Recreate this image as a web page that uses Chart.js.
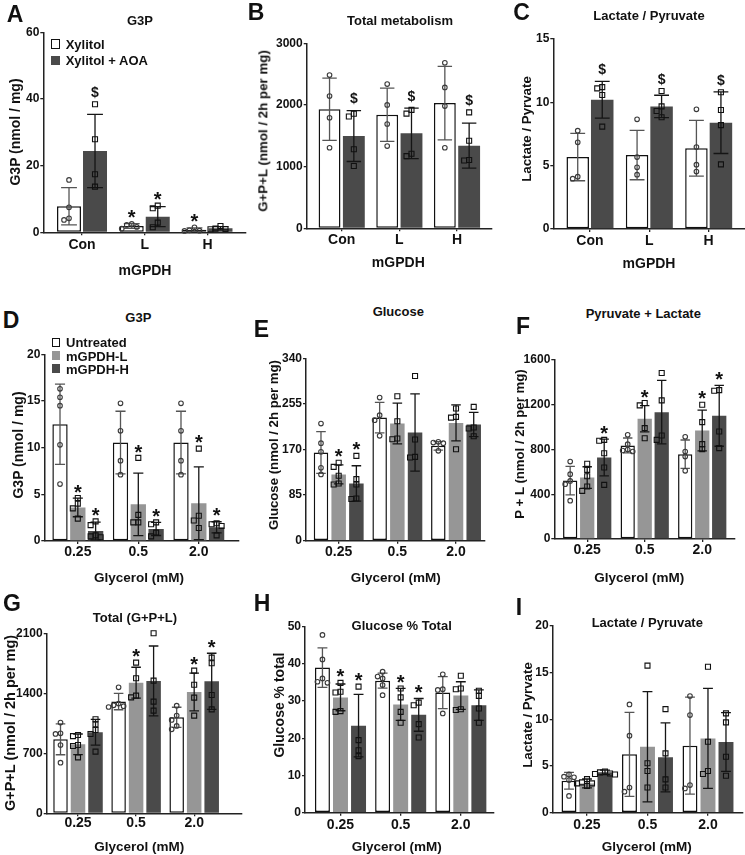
<!DOCTYPE html>
<html><head><meta charset="utf-8">
<script src="https://cdn.jsdelivr.net/npm/chart.js@4.4.1/dist/chart.umd.min.js"></script>
<style>
html,body{margin:0;padding:0;background:#fff;overflow:hidden;}
#root{position:relative;width:745px;height:855px;overflow:hidden;font-family:"Liberation Sans",Arial,Helvetica,sans-serif;font-weight:bold;color:#111;}
canvas{position:absolute;}
.t{position:absolute;white-space:nowrap;line-height:1;transform:translate(-50%,-50%);}
.r{transform:translate(-50%,-50%) rotate(-90deg);}
.lg{position:absolute;white-space:nowrap;line-height:1;transform:translateY(-50%);}
.box{position:absolute;box-sizing:border-box;}
</style></head><body><div id="root"></div>
<script>
// ---------- categories ----------
const catsMGPDH = ['Con', 'L', 'H'];
const catsGly = ['0.25', '0.5', '2.0'];

// ---------- Panel A: G3P (nmol/mg) ----------
const aXylMean = [7.8, 1.9, 0.8];
const aXylSd = [5.6, 0.7, 0.5];
const aXylPts = [[15.7, 7.5, 4.2, 3.7], [2.5, 2.2, 1.6, 1.1], [1.5, 0.6, 0.5, 0.4]];
const aXylMarks = ['', '*', '*'];
const aAoaMean = [24.4, 4.7, 1.2];
const aAoaSd = [11.0, 3.0, 0.5];
const aAoaPts = [[38.4, 27.9, 17.4, 13.7], [8.0, 7.2, 2.9, 1.5], [1.9, 1.1, 1.0, 0.9]];
const aAoaMarks = ['$', '*', ''];

// ---------- Panel B: Total metabolism ----------
const bXylMean = [1930, 1840, 2030];
const bXylSd = [505, 432, 595];
const bXylPts = [[2485, 2144, 1793, 1306], [2339, 2000, 1691, 1334], [2684, 2285, 1982, 1306]];
const bAoaMean = [1496, 1540, 1340];
const bAoaSd = [413, 410, 365];
const bAoaPts = [[1857, 1814, 1281, 1010], [1920, 1860, 1210, 1170], [1880, 1420, 1107, 1100]];
const bAoaMarks = ['$', '$', '$'];

// ---------- Panel C: Lactate / Pyruvate ----------
const cXylMean = [5.68, 5.84, 6.37];
const cXylSd = [1.87, 1.95, 2.2];
const cXylPts = [[7.76, 6.84, 4.13, 3.97], [8.66, 5.68, 4.87, 4.29], [9.45, 6.47, 5.08, 4.53]];
const cAoaMean = [10.2, 9.68, 8.39];
const cAoaSd = [1.45, 0.88, 2.43];
const cAoaPts = [[11.2, 11.1, 10.58, 8.08], [10.9, 9.68, 9.31, 8.82], [10.8, 9.39, 8.2, 5.1]];
const cAoaMarks = ['$', '$', '$'];

// ---------- Panel D: G3P vs glycerol ----------
const dUntMean = [12.5, 10.55, 10.55];
const dUntSd = [4.3, 3.35, 3.35];
const dUntPts = [[16.3, 15.4, 14.5, 10.3, 6.1], [14.75, 11.8, 8.6, 7.1], [14.75, 11.8, 8.6, 7.1]];
const dLMean = [3.6, 3.93, 4.04];
const dLSd = [1.0, 3.35, 3.9];
const dLPts = [[4.6, 4.0, 3.5, 2.4], [8.9, 2.8, 2.0, 2.0], [9.9, 2.7, 2.2, 1.4]];
const dLMarks = ['*', '*', '*'];
const dHMean = [1.07, 1.29, 1.46];
const dHSd = [0.95, 0.7, 0.6];
const dHPts = [[2.1, 1.7, 0.6, 0.5, 0.4], [2.0, 1.8, 0.9, 0.5], [1.9, 1.8, 1.6, 0.6]];
const dHMarks = ['*', '*', '*'];

// ---------- Panel E: Glucose ----------
const eUntMean = [164.4, 229.5, 176.8];
const eUntSd = [39, 28.5, 8];
const eUntPts = [[218.4, 181.8, 165.6, 135.9, 123.5], [266.8, 233.9, 224.6, 195.4], [184.3, 183, 181.8, 167.5]];
const eLMean = [123.5, 218.4, 219.6];
const eLSd = [17.7, 38, 33.5];
const eLPts = [[145.2, 137.7, 121, 106.7, 104.8], [269.3, 222.7, 190.5, 189.2], [246.3, 230.8, 229.5, 170.6]];
const eLMarks = ['*', '', ''];
const eHMean = [106.7, 201.6, 216.5];
const eHSd = [33, 72, 22.6];
const eHPts = [[158.2, 114.8, 104.8, 78.8, 77.6], [307.1, 188.6, 156.3, 155.1], [249.4, 210.9, 209.1, 194.8]];
const eHMarks = ['*', '', ''];

// ---------- Panel F: Pyruvate + Lactate ----------
const fUntMean = [522, 836, 758];
const fUntSd = [127, 67, 127];
const fUntPts = [[692, 579, 519, 490, 343], [931, 848, 800, 791, 782], [913, 782, 737, 609]];
const fLMean = [549, 1075, 970];
const fLSd = [97, 117, 182];
const fLPts = [[672, 618, 561, 469, 430], [1215, 1194, 991, 901], [1200, 1045, 848, 803]];
const fLMarks = ['', '*', '*'];
const fHMean = [728, 1134, 1101];
const fHSd = [164, 283, 272];
const fHPts = [[886, 878, 767, 639, 484], [1484, 1239, 925, 886], [1331, 1325, 961, 812]];
const fHMarks = ['*', '', '*'];

// ---------- Panel G: Total (G+P+L) ----------
const gUntMean = [863, 1303, 1120];
const gUntSd = [180, 95, 117];
const gUntPts = [[1058, 933, 926, 797, 591], [1470, 1280, 1260, 1250, 1240], [1256, 1140, 1089, 1019, 980]];
const gLMean = [805, 1524, 1416];
const gLSd = [120, 180, 220];
const gLPts = [[914, 900, 797, 786, 653], [1758, 1575, 1373, 1353], [1664, 1500, 1350, 1140]];
const gLMarks = ['', '*', '*'];
const gHMean = [945, 1544, 1540];
const gHSd = [150, 408, 327];
const gHPts = [[1097, 1038, 972, 926, 719], [2100, 1548, 1303, 1198], [1816, 1750, 1381, 1213]];
const gHMarks = ['', '', '*'];

// ---------- Panel H: Glucose % Total ----------
const hUntMean = [39.0, 35.5, 32.3];
const hUntSd = [5.3, 2.0, 4.3];
const hUntPts = [[47.8, 41.2, 36.1, 35.2, 34.9], [37.9, 36.6, 36.1, 34.3, 31.6], [37.2, 33.2, 33.0, 26.7]];
const hLMean = [31.0, 29.1, 31.5];
const hLSd = [3.6, 4.3, 3.7];
const hLPts = [[34.9, 32.5, 32.3, 27.3, 27.1], [33.4, 31.0, 27.1, 24.2], [36.8, 33.4, 33.2, 27.8, 27.6]];
const hLMarks = ['*', '*', ''];
const hHMean = [23.4, 26.3, 28.9];
const hHSd = [8.4, 4.4, 4.1];
const hHPts = [[33.9, 19.5, 16.8, 15.2], [29.6, 28.9, 23.8, 20.2], [32.8, 31.4, 28.0, 24.2]];
const hHMarks = ['*', '*', ''];

// ---------- Panel I: Lactate / Pyruvate vs glycerol ----------
const iUntMean = [3.43, 6.25, 7.18];
const iUntSd = [0.9, 4.5, 5.2];
const iUntPts = [[4.1, 3.86, 3.8, 3.5, 1.8], [11.6, 8.25, 2.7, 2.25], [12.5, 10.46, 2.96, 2.6]];
const iLMean = [3.14, 7.07, 7.96];
const iLSd = [0.47, 5.9, 5.35];
const iLPts = [[3.6, 3.25, 3.14, 3.14, 2.86], [15.75, 5.3, 4.46, 2.7], [15.64, 7.6, 4.46, 4.14]];
const iHMean = [4.32, 5.93, 7.57];
const iHSd = [0.25, 3.7, 3.15];
const iHPts = [[4.4, 4.32, 4.2, 4.14, 4.1], [11.1, 6.36, 3.57, 2.7], [10.64, 9.68, 6.0, 3.96]];

// ---------- styling ----------
const FONT = '"Liberation Sans", Arial, Helvetica, sans-serif';
const WHITE = '#ffffff', GREY = '#969696', DARK = '#4a4a4a', AX = '#222222';
const root = document.getElementById('root');

function ser(label, fill, mean, sd, pts, marks, marker) {
  return { label, fill, mean, sd, pts, marks: marks || [], marker };
}

function swarm(ys, d) {
  const idx = ys.map((y, i) => i).sort((a, b) => ys[a] - ys[b]);
  const placed = [], offs = new Array(ys.length).fill(0);
  for (const i of idx) {
    for (const c of [0, -d, d, -2 * d, 2 * d, -3 * d, 3 * d]) {
      if (placed.every(q => Math.hypot(q.x - c, q.y - ys[i]) >= d)) {
        offs[i] = c; placed.push({ x: c, y: ys[i] }); break;
      }
    }
  }
  return offs;
}

function makePanel(p, n) {
  const YW = 36, XH = 28;
  const cL = Math.floor(p.plot.l) - 40, cT = Math.floor(p.plot.t) - 14;
  const cW = Math.ceil(p.plot.r) - cL + 4, cH = Math.ceil(p.plot.b) - cT + 32;
  const cv = document.createElement('canvas');
  cv.width = cW; cv.height = cH;
  cv.style.left = cL + 'px'; cv.style.top = cT + 'px';
  cv.style.width = cW + 'px'; cv.style.height = cH + 'px';
  root.appendChild(cv);
  const pad = { left: p.plot.l - cL - YW, top: p.plot.t - cT, right: cW - (p.plot.r - cL), bottom: cH - (p.plot.b - cT) - XH };

  const overlay = {
    id: 'overlay' + n,
    afterDatasetsDraw(chart) {
      const ctx = chart.ctx, ys = chart.scales.y;
      p.series.forEach((s, di) => {
        const meta = chart.getDatasetMeta(di);
        meta.data.forEach((bar, i) => {
          const x = bar.x, w = bar.width;
          const m = s.mean[i], sd = s.sd[i];
          const yH = ys.getPixelForValue(m + sd), yL = ys.getPixelForValue(Math.max(0, m - sd));
          ctx.save();
          ctx.strokeStyle = s.fill === WHITE ? '#555555' : '#151515';
          ctx.lineWidth = 1.3;
          const cw = w * 0.33;
          ctx.beginPath();
          ctx.moveTo(x, yH); ctx.lineTo(x, yL);
          ctx.moveTo(x - cw, yH); ctx.lineTo(x + cw, yH);
          ctx.moveTo(x - cw, yL); ctx.lineTo(x + cw, yL);
          ctx.stroke();
          const vals = s.pts[i];
          const pys = vals.map(v => ys.getPixelForValue(v));
          const offs = swarm(pys, 5);
          ctx.lineWidth = 1.1;
          pys.forEach((py, k) => {
            const px = x + offs[k];
            ctx.beginPath();
            if (s.marker === 'circle') {
              ctx.strokeStyle = '#3a3a3a';
              ctx.arc(px, py, 2.3, 0, Math.PI * 2);
            } else {
              ctx.strokeStyle = '#111111';
              ctx.rect(px - 2.5, py - 2.5, 5, 5);
            }
            ctx.stroke();
          });
          const mk = s.marks[i];
          if (mk) {
            const top = Math.min(yH, ...pys);
            ctx.fillStyle = '#111111';
            ctx.textAlign = 'center';
            ctx.textBaseline = 'alphabetic';
            if (mk === '*') {
              const fs = 20;
              ctx.font = 'bold ' + fs + 'px ' + FONT;
              ctx.fillText('*', x, top - 11 + 0.58 * fs);
            } else {
              const fs = 14;
              ctx.font = 'bold ' + fs + 'px ' + FONT;
              ctx.fillText(mk, x, top - 12 + 0.35 * fs);
            }
          }
          ctx.restore();
        });
      });
    }
  };

  new Chart(cv, {
    type: 'bar',
    data: {
      datasets: p.series.map(s => ({
        label: s.label,
        data: s.mean.map((v, i) => ({ x: i, y: v })),
        backgroundColor: s.fill,
        borderColor: '#111111',
        borderWidth: s.fill === WHITE ? 1.5 : 0,
        borderSkipped: false
      }))
    },
    options: {
      responsive: false, animation: false, devicePixelRatio: 1,
      layout: { padding: pad },
      plugins: { legend: { display: false }, tooltip: { enabled: false }, title: { display: false } },
      datasets: { bar: { categoryPercentage: p.catPct, barPercentage: p.barPct } },
      scales: {
        x: {
          type: 'linear', min: p.xMin, max: p.xMax, offset: false, bounds: 'data',
          afterBuildTicks: ax => { ax.ticks = p.cats.map((c, i) => ({ value: i })); },
          afterFit: ax => { ax.height = XH; },
          ticks: {
            autoSkip: false, maxRotation: 0, minRotation: 0, padding: p.xPad, color: '#111111',
            font: { family: FONT, size: 14, weight: 'bold' },
            callback: v => (p.cats[v] !== undefined ? p.cats[v] : '')
          },
          grid: { drawOnChartArea: false, drawTicks: true, tickLength: 3, color: AX, lineWidth: 1.3, offset: false },
          border: { color: AX, width: 1.5 }
        },
        y: {
          type: 'linear', min: 0, max: p.yMax,
          afterFit: ax => { ax.width = YW; },
          ticks: {
            stepSize: p.yStep, padding: 1, color: '#111111',
            font: { family: FONT, size: 12, weight: 'bold' },
            callback: v => String(v)
          },
          grid: { drawOnChartArea: false, drawTicks: true, tickLength: 3, color: AX, lineWidth: 1.3 },
          border: { color: AX, width: 1.5 }
        }
      }
    },
    plugins: [overlay]
  });
}

function txt(s, cx, cy, size, rot) {
  const d = document.createElement('div');
  d.className = 't' + (rot ? ' r' : '');
  d.textContent = s;
  d.style.left = cx + 'px'; d.style.top = cy + 'px';
  d.style.fontSize = size + 'px';
  root.appendChild(d);
}
function legendItem(label, fill, bx, cy, sz, tx) {
  const b = document.createElement('div');
  b.className = 'box';
  b.style.left = bx + 'px'; b.style.top = (cy - sz / 2) + 'px';
  b.style.width = sz + 'px'; b.style.height = sz + 'px';
  b.style.background = fill;
  if (fill === WHITE) b.style.border = '1.5px solid #111';
  root.appendChild(b);
  const t = document.createElement('div');
  t.className = 'lg';
  t.textContent = label;
  t.style.left = tx + 'px'; t.style.top = cy + 'px'; t.style.fontSize = '13px';
  root.appendChild(t);
}

const panels = [
  { plot: { l: 43.3, r: 246, t: 32.3, b: 232.3 }, yMax: 60, yStep: 20, xMin: -0.617, xMax: 2.614, cats: catsMGPDH, catPct: 0.829, barPct: 0.923, xPad: 1.3,
    series: [ser('Xylitol', WHITE, aXylMean, aXylSd, aXylPts, aXylMarks, 'circle'), ser('Xylitol + AOA', DARK, aAoaMean, aAoaSd, aAoaPts, aAoaMarks, 'square')] },
  { plot: { l: 306.7, r: 491.7, t: 43.3, b: 228.3 }, yMax: 3000, yStep: 1000, xMin: -0.607, xMax: 2.602, cats: catsMGPDH, catPct: 0.843, barPct: 0.9, xPad: 0.3,
    series: [ser('Xylitol', WHITE, bXylMean, bXylSd, bXylPts, null, 'circle'), ser('Xylitol + AOA', DARK, bAoaMean, bAoaSd, bAoaPts, bAoaMarks, 'square')] },
  { plot: { l: 553.3, r: 745, t: 39, b: 229 }, yMax: 15, yStep: 5, xMin: -0.618, xMax: 2.612, cats: catsMGPDH, catPct: 0.826, barPct: 0.918, xPad: 0.3,
    series: [ser('Xylitol', WHITE, cXylMean, cXylSd, cXylPts, null, 'circle'), ser('Xylitol + AOA', DARK, cAoaMean, cAoaSd, cAoaPts, cAoaMarks, 'square')] },
  { plot: { l: 44.3, r: 238.3, t: 354.3, b: 541 }, yMax: 20, yStep: 5, xMin: -0.554, xMax: 2.653, cats: catsGly, catPct: 0.883, barPct: 0.86, xPad: 0,
    series: [ser('Untreated', WHITE, dUntMean, dUntSd, dUntPts, null, 'circle'), ser('mGPDH-L', GREY, dLMean, dLSd, dLPts, dLMarks, 'square'), ser('mGPDH-H', DARK, dHMean, dHSd, dHPts, dHMarks, 'square')] },
  { plot: { l: 306, r: 485, t: 358.3, b: 540.7 }, yMax: 340, yStep: 85, xMin: -0.557, xMax: 2.494, cats: catsGly, catPct: 0.905, barPct: 0.82, xPad: 0.2,
    series: [ser('Untreated', WHITE, eUntMean, eUntSd, eUntPts, null, 'circle'), ser('mGPDH-L', GREY, eLMean, eLSd, eLPts, eLMarks, 'square'), ser('mGPDH-H', DARK, eHMean, eHSd, eHPts, eHMarks, 'square')] },
  { plot: { l: 554.3, r: 734.3, t: 360, b: 539 }, yMax: 1600, yStep: 400, xMin: -0.572, xMax: 2.558, cats: catsGly, catPct: 0.887, barPct: 0.84, xPad: 0,
    series: [ser('Untreated', WHITE, fUntMean, fUntSd, fUntPts, null, 'circle'), ser('mGPDH-L', GREY, fLMean, fLSd, fLPts, fLMarks, 'square'), ser('mGPDH-H', DARK, fHMean, fHSd, fHPts, fHMarks, 'square')] },
  { plot: { l: 46.7, r: 241.7, t: 633.3, b: 813.3 }, yMax: 2100, yStep: 700, xMin: -0.539, xMax: 2.818, cats: catsGly, catPct: 0.904, barPct: 0.83, xPad: -1.2,
    series: [ser('Untreated', WHITE, gUntMean, gUntSd, gUntPts, null, 'circle'), ser('mGPDH-L', GREY, gLMean, gLSd, gLPts, gLMarks, 'square'), ser('mGPDH-H', DARK, gHMean, gHSd, gHPts, gHMarks, 'square')] },
  { plot: { l: 305, r: 493.3, t: 626.7, b: 812.7 }, yMax: 50, yStep: 10, xMin: -0.59, xMax: 2.54, cats: catsGly, catPct: 0.9, barPct: 0.83, xPad: 0.9,
    series: [ser('Untreated', WHITE, hUntMean, hUntSd, hUntPts, null, 'circle'), ser('mGPDH-L', GREY, hLMean, hLSd, hLPts, hLMarks, 'square'), ser('mGPDH-H', DARK, hHMean, hHSd, hHPts, hHMarks, 'square')] },
  { plot: { l: 552.7, r: 743, t: 626, b: 812.7 }, yMax: 20, yStep: 5, xMin: -0.567, xMax: 2.579, cats: catsGly, catPct: 0.893, barPct: 0.83, xPad: 0.9,
    series: [ser('Untreated', WHITE, iUntMean, iUntSd, iUntPts, null, 'circle'), ser('mGPDH-L', GREY, iLMean, iLSd, iLPts, null, 'square'), ser('mGPDH-H', DARK, iHMean, iHSd, iHPts, null, 'square')] }
];
panels.forEach((p, n) => makePanel(p, n));

// ---------- texts ----------
// Row 1
txt('A', 15, 14, 23); txt('G3P', 140, 20, 13); txt('G3P (nmol / mg)', 15, 132, 14, true); txt('mGPDH', 145, 270, 14);
legendItem('Xylitol', WHITE, 50.7, 44, 9.3, 65.7);
legendItem('Xylitol + AOA', DARK, 50.7, 60.3, 9.3, 65.7);
txt('B', 256, 12, 23); txt('Total metabolism', 400, 20, 13); txt('G+P+L (nmol / 2h per mg)', 262.5, 131, 13.3, true); txt('mGPDH', 398.3, 261.7, 14);
txt('C', 521.5, 12, 23); txt('Lactate / Pyruvate', 649, 15, 13); txt('Lactate / Pyrvate', 527, 129, 13.3, true); txt('mGPDH', 649, 263.3, 14);
// Row 2
txt('D', 11, 320, 23); txt('G3P', 138.3, 316.7, 13); txt('G3P (nmol / mg)', 18, 445, 14, true); txt('Glycerol (mM)', 139, 578.3, 13.5);
legendItem('Untreated', WHITE, 51.7, 342.3, 8.6, 66);
legendItem('mGPDH-L', GREY, 51.7, 355.7, 8.6, 66);
legendItem('mGPDH-H', DARK, 51.7, 368.6, 8.6, 66);
txt('E', 261.5, 329, 23); txt('Glucose', 398.3, 311, 13); txt('Glucose (nmol / 2h per mg)', 274, 445, 13.2, true); txt('Glycerol (mM)', 395.7, 578.3, 13.5);
txt('F', 523, 326, 23); txt('Pyruvate + Lactate', 643.3, 313.3, 13); txt('P + L (nmol / 2h per mg)', 520, 444, 13.2, true); txt('Glycerol (mM)', 639.3, 578.3, 13.5);
// Row 3
txt('G', 12, 603, 23); txt('Total (G+P+L)', 135, 617.3, 13); txt('G+P+L (nmol / 2h per mg)', 10, 723, 14.5, true); txt('Glycerol (mM)', 139.3, 846.7, 13.5);
txt('H', 262, 603, 23); txt('Glucose % Total', 401.7, 625, 13); txt('Glucose % total', 279, 704.5, 14, true); txt('Glycerol (mM)', 396.7, 846.7, 13.5);
txt('I', 519, 607, 23); txt('Lactate / Pyruvate', 647.3, 621.7, 13); txt('Lactate / Pyrvate', 527.5, 715, 13.3, true); txt('Glycerol (mM)', 646.7, 846.7, 13.5);
</script>
</body></html>
